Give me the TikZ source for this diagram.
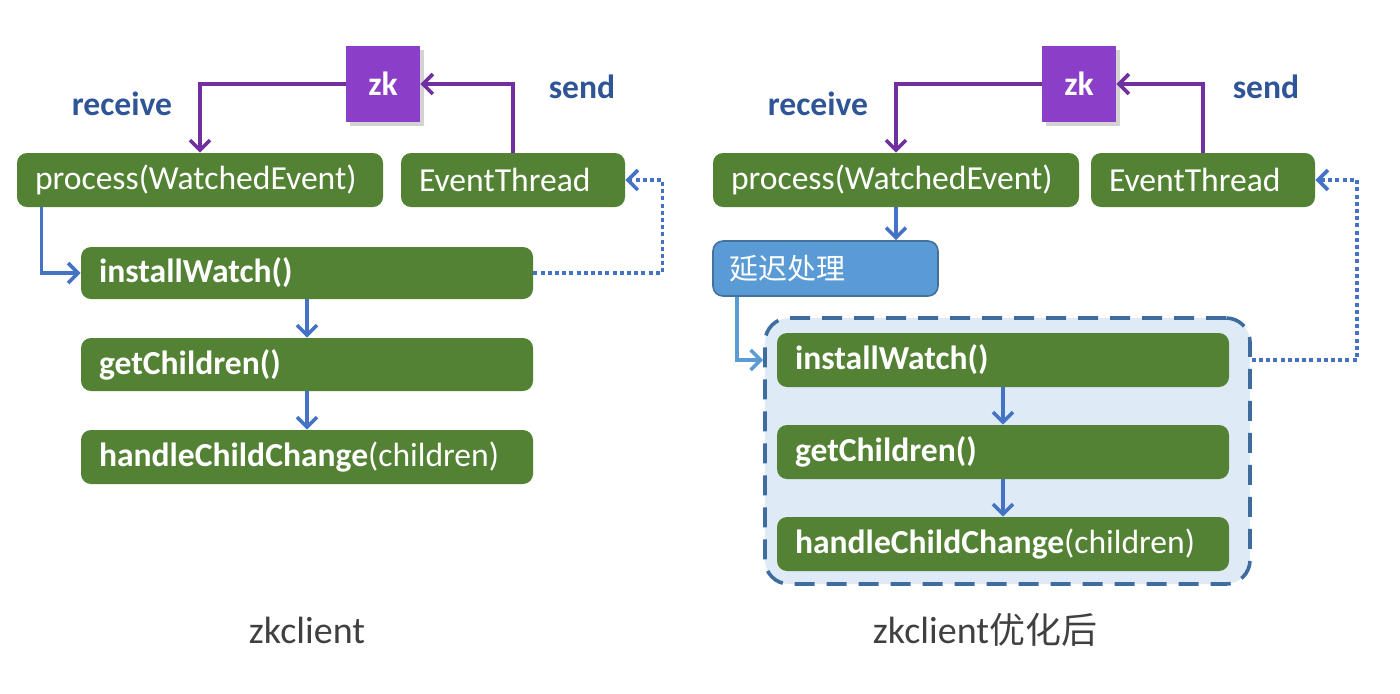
\documentclass[tikz,border=0pt]{standalone}
\usepackage{fontspec}
\setmainfont{Carlito}
\newfontfamily\cjk{Noto Sans CJK SC}
\usetikzlibrary{arrows.meta}
\usetikzlibrary{shadows}
\definecolor{boxgreen}{RGB}{84,130,53}
\definecolor{zkpurple}{RGB}{139,62,200}
\definecolor{arrpurple}{RGB}{112,48,160}
\definecolor{arrblue}{RGB}{68,114,196}
\definecolor{lblblue}{RGB}{47,85,151}
\definecolor{delayblue}{RGB}{91,155,213}
\definecolor{delayedge}{RGB}{65,113,156}
\definecolor{grpfill}{RGB}{222,235,247}
\definecolor{grpedge}{RGB}{62,108,158}
\definecolor{capgray}{RGB}{64,64,64}

\tikzset{
  gbox/.style={fill=boxgreen, rounded corners=5pt, text=white, align=left,
    inner xsep=9pt, inner ysep=0pt, minimum height=27pt, text width=#1,
    font=\fontsize{16.8}{20}\selectfont},
  zkbox/.style={fill=zkpurple, text=white, minimum width=37pt, minimum height=38pt,
    font=\fontsize{16.8}{20}\selectfont\bfseries,
    drop shadow={opacity=0.35, shadow xshift=2pt, shadow yshift=-2pt}},
  lbl/.style={text=lblblue, font=\fontsize{16.8}{20}\selectfont\bfseries},
  caption/.style={text=capgray, font=\fontsize{19}{23}\selectfont},
  tip/.style={-{Straight Barb[length=5pt,width=10pt]}, line width=1.8pt},
  purp/.style={tip, draw=arrpurple},
  flow/.style={tip, draw=arrblue},
  back/.style={tip, draw=arrblue, dash pattern=on 2pt off 1.6pt}
}

\begin{document}
\begin{tikzpicture}[x=0.5pt,y=-0.5pt]
\useasboundingbox (0,0) rectangle (1400,693);

% zkclient
\node[zkbox] (zkL) at (383,84) {zk};
\node[lbl] (recvL) at (122,104) {receive};
\node[lbl] (sendL) at (582,87) {send};
\node[gbox=165pt] (procL) at (200,180) {process(WatchedEvent)};
\node[gbox=94pt] (etL) at (513,180) {EventThread};
\node[gbox=208pt, minimum height=26pt] (instL) at (307,273) {\bfseries installWatch()};
\node[gbox=208pt, minimum height=26.5pt] (getL) at (307,364.5) {\bfseries getChildren()};
\node[gbox=208pt] (handL) at (307,457) {\textbf{handleChildChange}(children)};
\node[caption] (capL) at (307,630) {zkclient};

\draw[purp] (zkL.west) -| (procL.north);
\draw[purp] (etL.north) |- (zkL.east);
\draw[flow] ([xshift=12.5pt]procL.south west) |- (instL.west);
\draw[flow] (instL.south) -- (getL.north);
\draw[flow] (getL.south) -- (handL.north);
\draw[back] (instL.east) -- ++(129,0) |- (etL.east);

% zkclient after optimisation
\node[zkbox] (zkR) at (1079,84) {zk};
\node[lbl] (recvR) at (818,104) {receive};
\node[lbl] (sendR) at (1266,87) {send};
\node[gbox=165pt] (procR) at (896,180) {process(WatchedEvent)};
\node[gbox=94pt] (etR) at (1203,180) {EventThread};
\node[fill=delayblue, draw=delayedge, line width=0.8pt, rounded corners=5pt,
  text=white, align=left, inner xsep=8pt, inner ysep=0pt, minimum height=27.5pt,
  text width=96.5pt, font=\fontsize{14.5}{17}\selectfont\cjk] (delayR) at (825.5,268.5) {延迟处理};
\node[fill=grpfill, draw=grpedge, line width=1.8pt, dash pattern=on 10pt off 6pt,
  rounded corners=12pt, minimum width=242.5pt, minimum height=133pt] (grpR) at (1007.5,451) {};
\node[gbox=208pt] (instR) at (1003,360) {\bfseries installWatch()};
\node[gbox=208pt] (getR) at (1003,452) {\bfseries getChildren()};
\node[gbox=208pt] (handR) at (1003,544) {\textbf{handleChildChange}(children)};
\node[caption] (capR) at (985,630) {zkclient{\cjk\fontsize{18}{22}\selectfont 优化后}};

\draw[purp] (zkR.west) -| (procR.north);
\draw[purp] (etR.north) |- (zkR.east);
\draw[flow] (procR.south) -- (procR.south |- delayR.north);
\draw[tip, draw=delayblue] ([xshift=12.5pt]delayR.south west) |- (grpR.west |- instR.west);
\draw[flow] (instR.south) -- (getR.north);
\draw[flow] (getR.south) -- (handR.north);
\draw[back] (grpR.east |- instR.east) -- ++(105,0) |- (etR.east);
\end{tikzpicture}
\end{document}
